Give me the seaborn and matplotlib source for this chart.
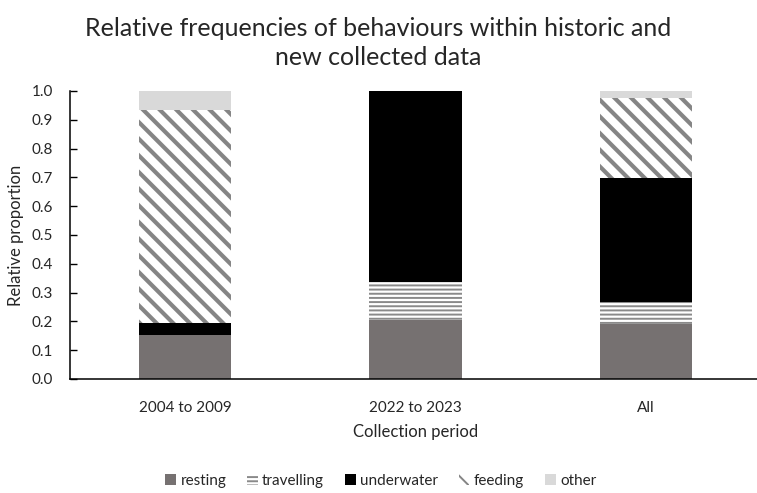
import matplotlib
matplotlib.use("Agg")
import matplotlib.pyplot as plt
from matplotlib.patches import Patch
import seaborn as sns
import pandas as pd

# Collection periods and behaviour shares (relative proportions)
periods = ["2004 to 2009", "2022 to 2023", "All"]
behaviours = ["resting", "travelling", "underwater", "feeding", "other"]
resting = [0.153, 0.205, 0.190]
travelling = [0.000, 0.131, 0.077]
underwater = [0.042, 0.664, 0.431]
feeding = [0.739, 0.000, 0.277]
other = [0.066, 0.000, 0.025]
y_ticks = [0.0, 0.1, 0.2, 0.3, 0.4, 0.5, 0.6, 0.7, 0.8, 0.9, 1.0]

sns.set_theme(style="white")
plt.rcParams["font.family"] = ["Lato", "DejaVu Sans"]

styles = {
    "resting":    dict(face="#767171", edge="#767171", hatch=None, hlw=0),
    "travelling": dict(face="white", edge="#8a8a8a", hatch="----", hlw=1.4),
    "underwater": dict(face="black", edge="black", hatch=None, hlw=0),
    "feeding":    dict(face="white", edge="#858585", hatch="\\\\", hlw=3.0),
    "other":      dict(face="#d9d9d9", edge="#d9d9d9", hatch=None, hlw=0),
}

df = pd.DataFrame({"period": periods, "resting": resting, "travelling": travelling,
                   "underwater": underwater, "feeding": feeding, "other": other})
cum = df[behaviours].cumsum(axis=1).assign(period=periods)

fig = plt.figure(figsize=(7.57, 4.93), dpi=100)
ax = fig.add_axes([70 / 757, 1 - 379 / 493, (761 - 70) / 757, (379 - 91) / 493])


def apply_style(patches, st):
    for p in patches:
        p.set_facecolor(st["face"])
        p.set_edgecolor(st["edge"])
        p.set_linewidth(0)
        if st["hatch"]:
            p.set_hatch(st["hatch"])
            try:
                p.set_hatch_linewidth(st["hlw"])
            except AttributeError:
                pass


# Stacked bars: draw cumulative totals from the top layer down
for b in reversed(behaviours):
    st = styles[b]
    if st["hatch"]:
        plt.rcParams["hatch.linewidth"] = st["hlw"]
    n_before = len(ax.patches)
    sns.barplot(data=cum, x="period", y=b, ax=ax, order=periods, width=0.4,
                color=st["face"], saturation=1, linewidth=0, errorbar=None)
    apply_style(ax.patches[n_before:], st)

ax.set_xlim(-0.5, 2.5)
ax.set_ylim(0, 1.0)
ax.set_yticks(y_ticks)
ax.set_yticklabels([f"{v:.1f}" for v in y_ticks], fontsize=11, color="#262626")
ax.set_xticks([0, 1, 2])
ax.set_xticklabels(periods, fontsize=11, color="#262626")
ax.tick_params(axis="x", which="major", length=0, pad=16)
ax.set_xticks([0.5, 1.5], minor=True)
ax.tick_params(axis="x", which="minor", direction="in", length=5, width=1, color="black")
ax.tick_params(axis="y", direction="in", length=5, width=1, color="black", pad=12, left=True)

for s in ["top", "right"]:
    ax.spines[s].set_visible(False)
for s in ["left", "bottom"]:
    ax.spines[s].set_color("black")
    ax.spines[s].set_linewidth(1.1)

ax.set_xlabel("Collection period", fontsize=12, color="#262626", labelpad=6)
ax.set_ylabel("Relative proportion", fontsize=12, color="#262626", labelpad=6)

fig.suptitle("Relative frequencies of behaviours within historic and\nnew collected data",
             x=0.5, y=0.965, fontsize=18, color="#262626", linespacing=1.32)

handles = []
for b in behaviours:
    st = styles[b]
    handles.append(Patch(facecolor=st["face"], edgecolor=st["edge"], linewidth=0,
                         hatch=st["hatch"], label=b))
leg = fig.legend(handles=handles, loc="center", bbox_to_anchor=(0.503, 1 - 481 / 493),
                 ncol=5, frameon=False, fontsize=11, handlelength=0.7,
                 handleheight=0.7, handletextpad=0.3, columnspacing=1.35)
for t in leg.get_texts():
    t.set_color("#262626")

fig.savefig("out.png", dpi=100)
